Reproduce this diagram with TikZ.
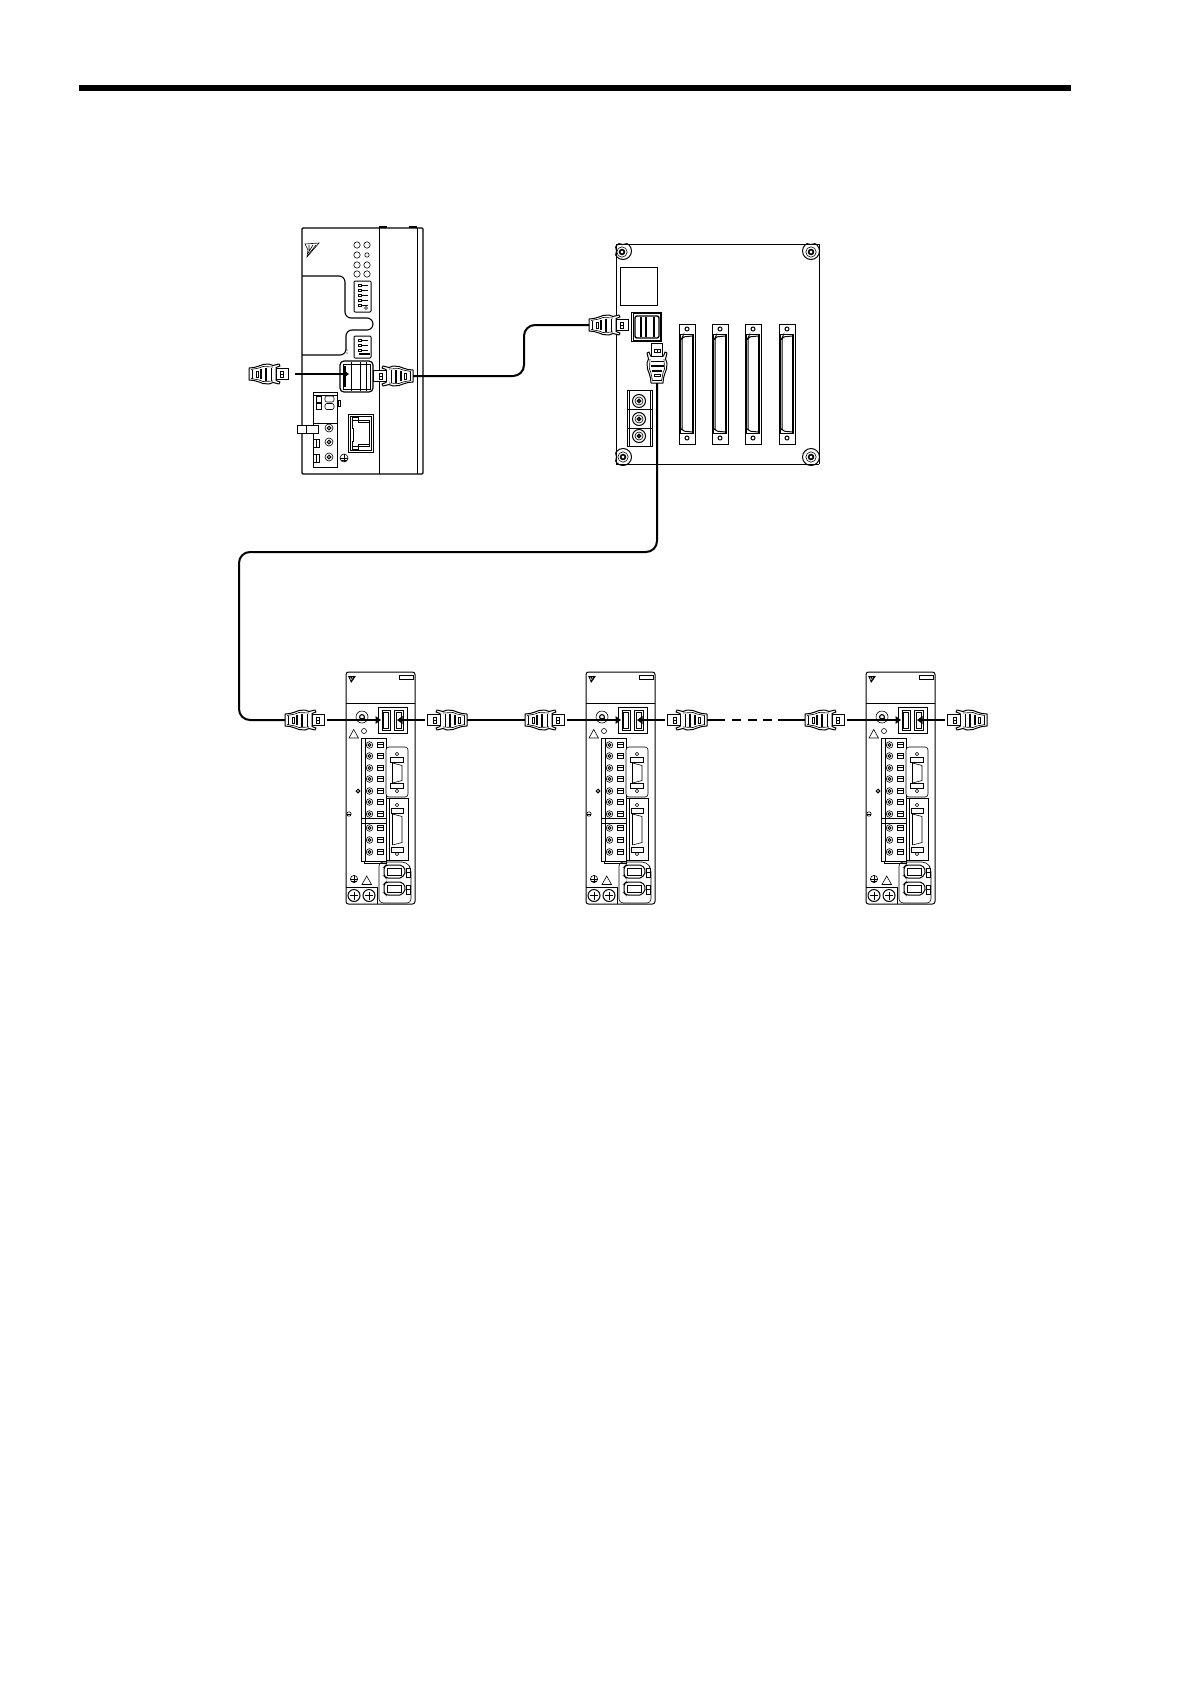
\documentclass[tikz,border=0pt]{standalone}
\usetikzlibrary{arrows.meta}
\tikzset{
  lw/.style={line width=1pt,draw=black},
  thn/.style={line width=0.6pt,draw=black},
  thk/.style={line width=1.5pt,draw=black},
  cable/.style={line width=2pt,draw=black},
  portarrow/.style={line width=2pt,draw=black,-{Triangle[length=5.5pt,width=7.5pt]}},
  conn/.pic={
    \draw[lw,fill=white,line join=round] (0,-6)--(5,-6.5)--(10,-8)--(14,-9.5)--(20,-10)--(24,-8.5)--(30,-10)--(31,-8)--(27,-6.5)--(27,6.5)--(31,8)--(30,10)--(24,8.5)--(20,10)--(14,9.5)--(10,8)--(5,6.5)--(0,6)--cycle;
    \draw[thn] (2,-4.5)--(10,-6)--(14,-7.5)--(24,-7);
    \draw[thn] (2,4.5)--(10,6)--(14,7.5)--(24,7);
    \draw[thn] (3,-4.5)--(3,4.5);
    \draw[lw] (7,-3) rectangle (9,3);
    \draw[line width=1.7pt] (12,-5)--(12,5);
    \draw[line width=1.7pt] (17,-6.5)--(17,6.5);
    \draw[thn] (22,-6.5)--(22,6.5);
    \draw[lw,fill=white] (27,-5.5) rectangle (39.5,5.5);
    \draw[thn] (31,-3.2) rectangle (34,-0.2);
    \draw[thn] (31,0.4) rectangle (34,3.4);
  },
  screwb/.pic={
    \draw[thn,fill=white] (0,0) circle (5.2);
    \draw[line width=1.6pt,fill=white] (0,0) circle (2.4);
  },
  terminal/.pic={
    \draw[lw] (15.5,66) rectangle (40,189);
    \draw[lw] (19,66)--(19,189);
    \draw[lw] (15.5,146)--(40,146) (15.5,151)--(40,151);
    \draw[thn] (18,189)--(18,191)--(40,191)--(40,189);
    \foreach \yy in {73,84,96,107,119,130,142,156,168,180}{
      \draw[thn] (23.5,\yy) circle (3.3);
      \draw[line width=1pt] (23.5,\yy) circle (1.5);
      \draw[lw] (31.5,\yy-2.8) rectangle (37.5,\yy+2.8);
      \draw[line width=1.2pt] (31.5,\yy-0.5)--(37.5,\yy-0.5);
    }
  },
  servo/.pic={
    \draw[lw,rounded corners=2.5pt] (0,0) rectangle (69,232);
    \draw[lw] (0,31)--(69,31);
    \draw[lw] (53,3) rectangle (67,7);
    \fill (2,4)--(10,4)--(5,11)--(4,8)--cycle;
    \draw[white,line width=0.4pt] (4,5)--(5,8) (7,5)--(5,8);
    % ports
    \draw[lw] (32,35) rectangle (61,61);
    \draw[lw] (36,38) rectangle (44,58);
    \draw[thn] (37.5,40) rectangle (42,56);
    \draw[lw] (48,38) rectangle (57,58);
    \draw[thn] (50,40) rectangle (55,56);
    % ground screw
    \draw[thn] (16,45) circle (6);
    \draw[line width=1.1pt] (16,45) circle (2.4);
    \draw[line width=1pt] (13.5,46)--(18.5,46);
    % warnings
    \draw[thn] (3,66)--(12.5,66)--(7.7,57.5)--cycle;
    \draw[thn] (18,59) circle (2.5);
    \pic {terminal};
    \draw[lw] (12,119) circle (1.8);
    \draw[thn] (3,142) circle (2.2);
    \draw[thn] (1,142)--(5,142);
    % D-sub 1
    \draw[thn,rounded corners=3pt,fill=white] (40,75) rectangle (62,125);
    \draw[thn] (51,82) circle (1.8);
    \draw[lw] (44.5,85) rectangle (57,90);
    \draw[lw] (46.5,91)--(46.5,111);
    \draw[thn] (46.5,91)--(56,93.5)--(56,108.5)--(46.5,111);
    \draw[lw] (44.5,111) rectangle (57,116);
    \draw[thn] (51,119) circle (1.8);
    % D-sub 2
    \draw[lw,fill=white] (40,126) rectangle (62,188);
    \draw[thn] (43,126)--(43,188);
    \draw[thn] (51,133) circle (1.8);
    \draw[lw] (45,136) rectangle (57,141);
    \draw[lw] (46.5,142)--(46.5,173);
    \draw[thn] (46.5,142)--(56,144.5)--(56,170.5)--(46.5,173);
    \draw[lw] (45,175) rectangle (57,180);
    \draw[thn] (51,182) circle (1.8);
    % lower connectors
    \draw[thn,rounded corners=4pt] (33,190)--(60,190)--(65,196)--(65,231)--(33,231)--cycle;
    \foreach \yy in {193,210}{
      \draw[lw,rounded corners=2pt] (38,\yy+2)--(40,\yy)--(56,\yy)--(60,\yy+6)--(56,\yy+13)--(40,\yy+13)--(38,\yy+11)--cycle;
      \draw[thn] (41,\yy+3) rectangle (55,\yy+10);
      \draw[lw] (60,\yy+3) rectangle (64,\yy+12);
      \draw[thn] (60,\yy+7)--(64,\yy+7);
    }
    % bottom
    \draw[thn] (8,207) circle (3.6);
    \draw[thn] (8,203.4)--(8,210.6) (4.4,207.5)--(11.6,207.5) (5.5,209.5)--(10.5,209.5);
    \draw[thn] (16,212.5)--(25.5,212.5)--(20.7,204)--cycle;
    \draw[lw] (0,215)--(31,215)--(31,232);
    \foreach \xx in {8,23}{
      \draw[lw] (\xx,223.5) circle (6);
      \draw[thn] (\xx-4,223.5)--(\xx+4,223.5) (\xx,219.5)--(\xx,227.5);
    }
  }
}
\begin{document}
\begin{tikzpicture}[x=1pt,y=-1pt]
\useasboundingbox (0,0) rectangle (1190,1684);
\fill[white] (0,0) rectangle (1190,1684);
% header rule
\coordinate (ruleL) at (79,88);
\coordinate (ruleR) at (1071,88);
\draw[line width=6pt] (ruleL)--(ruleR);

% ---------- controller ----------
\draw[line width=1.1pt,rounded corners=1pt] (302,228) rectangle (423,474);
\draw[thn] (379,228)--(379,474);
\draw[lw] (417,228)--(417,474);
\draw[line width=1.8pt] (379,227)--(387,227) (409,227)--(417,227);
% logo
\draw[thn] (305,244)--(319,243)--(307,257)--(308,250)--cycle;
\draw[thn] (309,245)--(309,250) (313,245)--(308,253) (316,245)--(308,255);
\foreach \xx in {357,367}\foreach \yy in {245,265,274}{\draw[thn] (\xx,\yy) circle (3.2);}
\draw[thn] (357,255) circle (3.2);
\draw[thn] (367,255) circle (2.2);
% panel line
\draw[line width=1.1pt,rounded corners=6pt] (302,276)--(345,276)--(345,318)--(373,318)--(373,330)--(346,330)--(346,355)--(302,355);
\draw[lw,rounded corners=1pt,fill=white] (354,281) rectangle (371,312);
\foreach \yy in {284,289,294,299,304}{\draw[lw,fill=white] (358,\yy) rectangle (361,\yy+2.6); \draw[thn] (361,\yy+1.3)--(368,\yy+1.3);}
\draw[thn] (366,308) circle (1.5);
\draw[lw,rounded corners=1pt,fill=white] (354,336) rectangle (371,358);
\foreach \yy in {339,344,349}{\draw[lw,fill=white] (358,\yy) rectangle (361,\yy+2.6); \draw[thn] (361,\yy+1.3)--(368,\yy+1.3);}
\draw[thk] (359,354)--(370,354);
\fill (347,350) circle (0.6) (347,353) circle (0.6);
% controller port
\draw[line width=1.2pt,rounded corners=4pt,fill=white] (340,361) rectangle (373,392);
\draw[lw] (343,364) rectangle (370,389);
\draw[lw] (351,362)--(351,391) (360,362)--(360,391) (366,362)--(366,391);
\draw[line width=1.6pt] (345,366)--(345,387);
% terminal block
\draw[lw] (313,392) rectangle (337,467);
\draw[lw] (313,395)--(337,395) (313,423)--(337,423);
\draw[thn] (338,400) rectangle (340.5,406);
\foreach \yy in {396,403.5}{
  \draw[lw] (316,\yy) rectangle (321,\yy+6);
  \draw[thn,rounded corners=2pt] (325,\yy) rectangle (334,\yy+6);
}
\draw[lw,fill=white] (297,425) rectangle (318,433);
\draw[thn] (306,425)--(306,433);
\foreach \yy in {428,442,457}{\draw[thn] (329,\yy) circle (4); \draw[lw] (329,\yy) circle (1.8);}
\foreach \yy in {439,454}{\draw[lw] (313,\yy) rectangle (319,\yy+8); \draw[lw] (316,\yy)--(316,\yy+8);}
\draw[thn] (344,458) circle (4);
\draw[thn] (344,454)--(344,462) (340,458.5)--(348,458.5) (341,460.5)--(347,460.5);
% ethernet
\draw[lw] (348,414) rectangle (373,452);
\draw[thn] (350,416) rectangle (371,450);
\draw[lw] (352,420)--(369,420)--(369,446)--(352,446)--(352,441)--(353,441)--(353,428)--(352,428)--cycle;
\draw[thn] (352,420)--(352,417)--(358,417)--(358,422)--(369,422);
\draw[thn] (352,446)--(352,449)--(358,449)--(358,444)--(369,444);

% controller connectors
\coordinate (cLend) at (249,374);
\coordinate (cLcab) at (295,374);
\coordinate (cLport) at (349,374);
\coordinate (cRend) at (413,376);
\pic at (cLend) {conn};
\draw[portarrow] (cLcab)--(cLport);
\pic[xscale=-1] at (cRend) {conn};

% ---------- board ----------
\begin{scope}
  \clip (615,243) rectangle (820,465);
  \foreach \cx/\cy in {623/251,811/251,623/457,811/457}{
    \draw[lw] (\cx,\cy) circle (8.5);
  }
\end{scope}
\draw[thn] (616,244)--(819,244)--(819,464);
\draw[lw] (616,244)--(616,464)--(819,464);
\foreach \cx/\cy in {622/252,811/252,623/457,811/457}{\pic at (\cx,\cy) {screwb};}
\draw[lw] (620,267) rectangle (657,305);
% board ports
\draw[lw] (631,312) rectangle (661,341);
\draw[thn] (633,313) rectangle (660,340);
\draw[line width=1.4pt,rounded corners=2pt] (635,316) rectangle (659,338);
\draw[line width=1.8pt] (641,317)--(641,337);
\draw[line width=1.8pt] (646,317)--(646,337);
\draw[line width=1.8pt] (654,317)--(654,337);
% slots
\foreach \sx in {679,712,745,779}{
  \draw[lw] (\sx,324) rectangle (\sx+16,444);
  \draw[lw] (\sx+1,334)--(\sx+15,334);
  \draw[lw] (\sx+1,433)--(\sx+15,433);
  \draw[lw,rounded corners=2pt] (\sx+3,430)--(\sx+3,338)--(\sx+3.5,337)--(\sx+13,336);
  \draw[lw,rounded corners=2pt] (\sx+3,430)--(\sx+3.5,431)--(\sx+13,432);
  \draw[line width=1.5pt] (\sx+14,334)--(\sx+14,433);
  \draw[lw] (\sx+1.5,334)--(\sx+1.5,433);
  \draw[lw] (\sx+8,329) circle (2);
  \draw[lw] (\sx+8,438) circle (2);
}
% power terminal
\draw[lw] (627,390) rectangle (652,446);
\draw[thn] (629,390)--(629,446) (650,390)--(650,446);
\draw[lw] (627,409.5)--(652,409.5) (627,428)--(652,428);
\foreach \yy in {401,419,436}{
  \draw[lw] (639,\yy) circle (6.5);
  \draw[thn] (639,\yy) circle (4);
  \draw[line width=1.5pt] (639,\yy) circle (1.6);
}
% board connectors
\coordinate (bLend) at (589,325);
\coordinate (bVend) at (657,383);
\pic at (bLend) {conn};
\pic[rotate=90] at (bVend) {conn};

% controller to board cable
\coordinate (cb1) at (524,376);
\coordinate (cb2) at (524,325);
\draw[cable,rounded corners=11pt] (cRend)--(cb1)--(cb2)--(bLend);

% ---------- servos ----------
\pic at (346,672) {servo};
\pic at (586,672) {servo};
\pic at (866,672) {servo};

\coordinate (a1) at (285,720);
\coordinate (a1c) at (327,720);
\coordinate (a1p) at (381,720);
\coordinate (a2c) at (425,720);
\coordinate (a2p) at (397,720);
\coordinate (a2e) at (467,720);
\coordinate (b1) at (525,720);
\coordinate (b1c) at (567,720);
\coordinate (b1p) at (621,720);
\coordinate (b2c) at (665,720);
\coordinate (b2p) at (637,720);
\coordinate (b2e) at (707,720);
\coordinate (d1) at (725,720);
\coordinate (d2) at (732,720);
\coordinate (d3) at (772,720);
\coordinate (d4) at (778,720);
\coordinate (e1) at (805,720);
\coordinate (e1c) at (847,720);
\coordinate (e1p) at (901,720);
\coordinate (e2c) at (945,720);
\coordinate (e2p) at (917,720);
\coordinate (e2e) at (987,720);

\pic at (a1) {conn};
\pic[xscale=-1] at (a2e) {conn};
\pic at (b1) {conn};
\pic[xscale=-1] at (b2e) {conn};
\pic at (e1) {conn};
\pic[xscale=-1] at (e2e) {conn};

\draw[portarrow] (a1c)--(a1p);
\draw[portarrow] (a2c)--(a2p);
\draw[portarrow] (b1c)--(b1p);
\draw[portarrow] (b2c)--(b2p);
\draw[portarrow] (e1c)--(e1p);
\draw[portarrow] (e2c)--(e2p);
\draw[cable] (a2e)--(b1);
\draw[cable] (b2e)--(d1);
\draw[cable,dash pattern=on 9pt off 6.5pt] (d2)--(d3);
\draw[cable] (d4)--(e1);

% long cable board to first servo
\coordinate (l1) at (657,552);
\coordinate (l2) at (239,552);
\coordinate (l3) at (239,720);
\draw[cable,rounded corners=11pt] (bVend)--(l1)--(l2)--(l3)--(a1);
\end{tikzpicture}
\end{document}
